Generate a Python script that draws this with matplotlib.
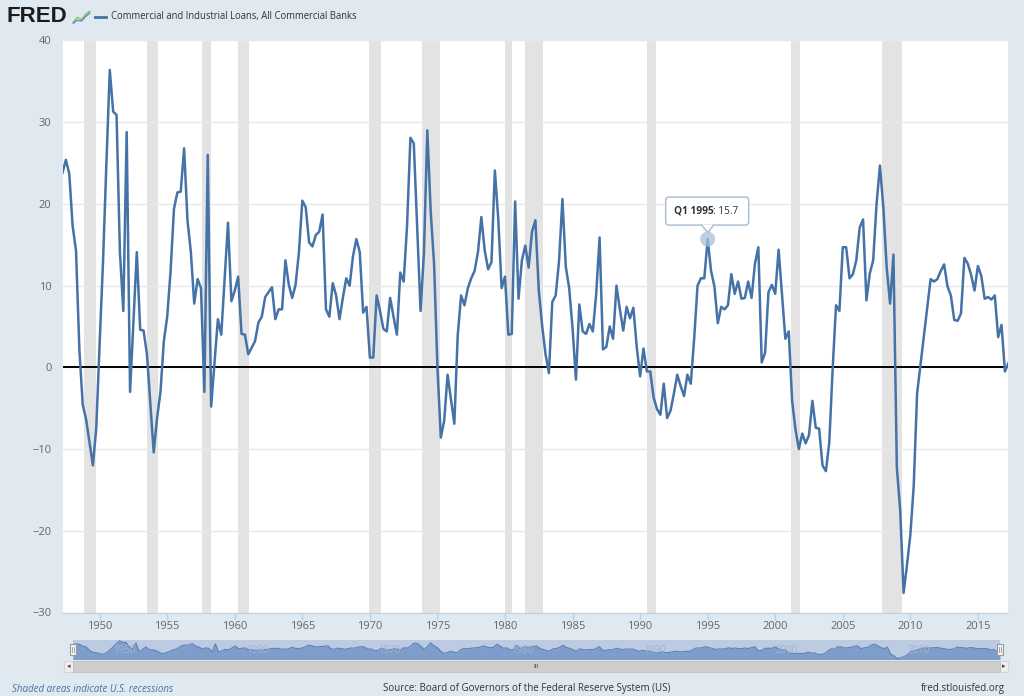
import numpy as np
import matplotlib
matplotlib.use("Agg")
import matplotlib.pyplot as plt
from matplotlib.patches import Rectangle, FancyBboxPatch, Polygon, Circle
from matplotlib.lines import Line2D

W, H = 1024, 696

# ---- data (percent change at annual rate, quarterly, Q2 1947 .. Q2 2017) ----
series_title = "Commercial and Industrial Loans, All Commercial Banks"
first_quarter = 1947.25
loans_pct = [
    23.8, 25.4, 23.7,                 # 1947 Q2-Q4
    17.3, 14.3, 2.1, -4.6,            # 1948
    -6.4, -9.2, -12.0, -7.4,          # 1949
    3.0, 13.0, 25.0, 36.4,            # 1950
    31.3, 30.9, 14.1, 6.9,            # 1951
    28.8, -3.0, 5.5, 14.1,            # 1952
    4.6, 4.5, 1.6, -4.5,              # 1953
    -10.4, -6.2, -3.0, 3.2,           # 1954
    6.2, 11.8, 19.4, 21.4,            # 1955
    21.5, 26.8, 18.0, 14.1,           # 1956
    7.8, 10.8, 9.7, -3.0,             # 1957
    26.0, -4.8, 0.5, 5.9,             # 1958
    4.0, 10.8, 17.7, 8.1,             # 1959
    9.4, 11.1, 4.1, 4.0,              # 1960
    1.6, 2.4, 3.2, 5.5,               # 1961
    6.2, 8.6, 9.2, 9.8,               # 1962
    5.9, 7.1, 7.1, 13.1,              # 1963
    10.1, 8.5, 10.1, 14.1,            # 1964
    20.4, 19.6, 15.3, 14.8,           # 1965
    16.2, 16.6, 18.7, 7.1,            # 1966
    6.2, 10.3, 8.8, 5.9,              # 1967
    8.5, 10.9, 10.0, 13.6,            # 1968
    15.7, 14.1, 6.7, 7.4,             # 1969
    1.2, 1.2, 8.8, 6.9,               # 1970
    4.7, 4.4, 8.5, 6.2,               # 1971
    4.0, 11.6, 10.5, 17.3,            # 1972
    28.1, 27.4, 17.0, 6.9,            # 1973
    14.0, 29.0, 19.1, 12.7,           # 1974
    0.0, -8.6, -6.5, -0.9,            # 1975
    -3.9, -6.9, 3.9, 8.8,             # 1976
    7.6, 9.7, 10.9, 11.8,             # 1977
    14.1, 18.4, 14.3, 12.0,           # 1978
    12.9, 24.1, 18.2, 9.7,            # 1979
    11.1, 4.0, 4.1, 20.3,             # 1980
    8.4, 13.1, 14.9, 12.2,            # 1981
    16.6, 18.0, 9.4, 5.1,             # 1982
    1.6, -0.7, 8.0, 8.8,              # 1983
    13.0, 20.6, 12.3, 9.7,            # 1984
    4.8, -1.5, 7.7, 4.4,              # 1985
    4.1, 5.3, 4.4, 9.0,               # 1986
    15.9, 2.2, 2.5, 5.0,              # 1987
    3.5, 10.0, 7.1, 4.5,              # 1988
    7.4, 6.0, 7.3, 2.5,               # 1989
    -1.1, 2.3, -0.5, -0.5,            # 1990
    -3.7, -5.1, -5.8, -2.0,           # 1991
    -6.2, -5.3, -3.2, -0.9,           # 1992
    -2.3, -3.5, -0.9, -2.0,           # 1993
    3.5, 10.0, 10.9, 10.9,            # 1994
    15.7, 11.8, 9.9, 5.4,             # 1995
    7.4, 7.1, 7.6, 11.4,              # 1996
    9.0, 10.5, 8.4, 8.5,              # 1997
    10.5, 8.5, 12.7, 14.7,            # 1998
    0.6, 1.8, 9.2, 10.1,              # 1999
    9.0, 14.4, 9.0, 3.5,              # 2000
    4.4, -4.1, -7.6, -10.0,           # 2001
    -8.1, -9.3, -8.3, -4.1,           # 2002
    -7.4, -7.5, -12.0, -12.7,         # 2003
    -9.2, -0.2, 7.6, 6.9,             # 2004
    14.7, 14.7, 10.9, 11.4,           # 2005
    13.1, 17.1, 18.1, 8.2,            # 2006
    11.5, 13.1, 20.0, 24.7,           # 2007
    19.6, 12.2, 7.8, 13.8,            # 2008
    -12.2, -17.5, -27.6, -24.2,       # 2009
    -20.5, -14.5, -3.2, 0.3,          # 2010
    3.8, 7.3, 10.8, 10.5,             # 2011
    10.8, 11.8, 12.6, 9.9,            # 2012
    8.8, 5.8, 5.7, 6.6,               # 2013
    13.4, 12.7, 11.3, 9.4,            # 2014
    12.4, 11.2, 8.4, 8.6,             # 2015
    8.3, 8.8, 3.7, 5.2,               # 2016
    -0.5, 0.5,                        # 2017 Q1-Q2
]
quarters = first_quarter + 0.25 * np.arange(len(loans_pct))

# NBER recessions (start month, end month)
recessions = [
    ((1948, 11), (1949, 10)), ((1953, 7), (1954, 5)), ((1957, 8), (1958, 4)),
    ((1960, 4), (1961, 2)), ((1969, 12), (1970, 11)), ((1973, 11), (1975, 3)),
    ((1980, 1), (1980, 7)), ((1981, 7), (1982, 11)), ((1990, 7), (1991, 3)),
    ((2001, 3), (2001, 11)), ((2007, 12), (2009, 6)),
]

y_ticks = [-30, -20, -10, 0, 10, 20, 30, 40]
x_ticks = list(range(1950, 2016, 5))
nav_ticks = list(range(1950, 2011, 10))

tip_quarter = 1995.0
tip_label = "Q1 1995"

PAGE = "#E1E9F0"
LINE = "#4572A7"
GREY_TXT = "#666666"


def ym(d):
    return d[0] + (d[1] - 1) / 12.0


def px_rect(x0, y0, x1, y1):
    # pixel box (top-left origin) -> figure fraction rect
    return [x0 / W, 1 - y1 / H, (x1 - x0) / W, (y1 - y0) / H]


narrow = ["Liberation Sans Narrow", "Open Sans", "DejaVu Sans"]

fig = plt.figure(figsize=(W / 100, H / 100), dpi=100)
fig.patch.set_facecolor(PAGE)

# ---- main chart ----
ax = fig.add_axes(px_rect(62.5, 40.5, 1008.3, 612.5))
ax.set_facecolor("white")
for s, e in recessions:
    ax.axvspan(ym(s), ym(e), color="#E3E3E3", lw=0, zorder=0)
ax.set_yticks(y_ticks)
ax.set_xticks(x_ticks)
ax.yaxis.grid(True, color="#E8E8E8", lw=1, zorder=0.5)
ax.set_axisbelow(True)
ax.axhline(0, color="black", lw=1.4, zorder=2)
ax.plot(quarters, loans_pct, color=LINE, lw=1.8, zorder=3, solid_joinstyle="round")
ax.set_xlim(quarters[0], quarters[-1])
ax.set_ylim(-30, 40)
for side in ["top", "right", "left"]:
    ax.spines[side].set_visible(False)
ax.spines["bottom"].set_color("#C0D0E0")
ax.tick_params(axis="y", length=0, pad=8, labelsize=8, labelcolor=GREY_TXT)
ax.tick_params(axis="x", length=4.8, width=1, color="#C0D0E0", pad=1.5,
               labelsize=8, labelcolor=GREY_TXT)
for lab in ax.get_xticklabels() + ax.get_yticklabels():
    lab.set_family(narrow)

# ---- navigator ----
nav = fig.add_axes(px_rect(73, 640, 1000, 659.5))
nav.set_facecolor("#BCCAE2")
nav_floor = min(loans_pct) - 3
nav.fill_between(quarters, loans_pct, nav_floor, color="#7F9DCB", lw=0)
nav.plot(quarters, loans_pct, color="#5B82BA", lw=0.8)
nav.set_xlim(quarters[0], quarters[-1])
nav.set_ylim(nav_floor, max(loans_pct) + 3)
nav.set_xticks([])
nav.set_yticks([])
for sp in nav.spines.values():
    sp.set_visible(False)
for yr in nav_ticks:
    nav.text(yr + 0.3, 0.45, str(yr), transform=nav.get_xaxis_transform(),
             fontsize=7, color="#A3B4CE", family=narrow, va="center")

# ---- overlay in pixel coordinates (header, footer, scrollbar, tooltip) ----
ov = fig.add_axes([0, 0, 1, 1], zorder=10)
ov.set_xlim(0, W)
ov.set_ylim(H, 0)
ov.axis("off")
ov.patch.set_visible(False)

ov.text(7, 17, "FRED", fontsize=16, fontweight="heavy", color="#1C1C1C",
        family="Liberation Sans", va="center", ha="left")
icon = fig.add_axes(px_rect(72, 9, 91, 24), zorder=11)
icon.set_facecolor("#DCE2E8")
icon.plot([0, 1, 2, 3, 4], [0.5, 1.8, 1.2, 2.6, 3.4], color="#8CC152", lw=1)
icon.plot([0, 1, 2, 3, 4], [0.2, 1.0, 0.8, 2.0, 2.9], color="#5B8BC9", lw=1)
icon.set_xlim(-0.3, 4.3)
icon.set_ylim(0, 4)
icon.axis("off")
ov.add_line(Line2D([95, 106], [16.5, 16.5], color=LINE, lw=2))
ov.text(111, 16.5, series_title, fontsize=6.85, color="#333333",
        family="Open Sans", va="center", ha="left")

# scrollbar
ov.add_patch(Rectangle((64, 660.5), 944, 11, fc="#EEEEEE", ec="#D5D5D5", lw=0.8))
ov.add_patch(Rectangle((73, 660.5), 927, 11, fc="#CDCDCD", ec="#C0C0C0", lw=0.6))
ov.text(536.5, 666, "III", fontsize=4.5, color="#444444", ha="center", va="center")
ov.text(68.5, 666, "\u25c2", fontsize=5, color="#444444", ha="center", va="center")
ov.text(1004, 666, "\u25b8", fontsize=5, color="#444444", ha="center", va="center")
for hx in (73, 1000):
    ov.add_patch(Rectangle((hx - 3, 644), 6, 11, fc="#F4F4F4", ec="#999999", lw=0.8))
    ov.add_line(Line2D([hx - 0.8, hx - 0.8], [647, 652], color="#999999", lw=0.6))
    ov.add_line(Line2D([hx + 0.8, hx + 0.8], [647, 652], color="#999999", lw=0.6))

# footer
ov.text(12, 689, "Shaded areas indicate U.S. recessions", fontsize=7,
        style="italic", color="#4572A7", family=narrow, va="center")
ov.text(527, 689, "Source: Board of Governors of the Federal Reserve System (US)",
        fontsize=7, color="#333333", family=narrow, va="center", ha="center")
ov.text(1005, 689, "fred.stlouisfed.org", fontsize=7, color="#333333",
        family=narrow, va="center", ha="right")

# tooltip tied to the data point
tip_i = int(round((tip_quarter - first_quarter) * 4))
tip_v = loans_pct[tip_i]
dx, dy = ax.transData.transform((quarters[tip_i], tip_v))
tx, ty = dx, H - dy
ov.add_patch(Circle((tx, ty), 7.5, fc="#A9C0DC", ec="none", alpha=0.75, zorder=4))
box_top, box_bot = ty - 42, ty - 14
ov.add_patch(FancyBboxPatch((tx - 42, box_top), 83, box_bot - box_top,
                            boxstyle="round,pad=0,rounding_size=3",
                            fc="white", ec="#A7BBD3", lw=1, zorder=5))
ov.add_patch(Polygon([(tx - 6, box_bot - 0.6), (tx + 6, box_bot - 0.6), (tx, ty - 6.5)],
                     closed=True, fc="white", ec="none", zorder=6))
ov.add_line(Line2D([tx - 6, tx, tx + 6], [box_bot, ty - 6.5, box_bot],
                   color="#A7BBD3", lw=1, zorder=6))
t_bold = ov.text(tx - 34, ty - 28, tip_label, fontsize=7.3, fontweight="bold",
                 color="#333333", family="Open Sans", va="center", zorder=7)
fig.canvas.draw()
bb = t_bold.get_window_extent()
ov.text(tx - 34 + bb.width, ty - 28, f": {tip_v:.1f}", fontsize=7.3,
        color="#333333", family="Open Sans", va="center", zorder=7)

fig.savefig("out.png", dpi=100, facecolor=fig.get_facecolor())
